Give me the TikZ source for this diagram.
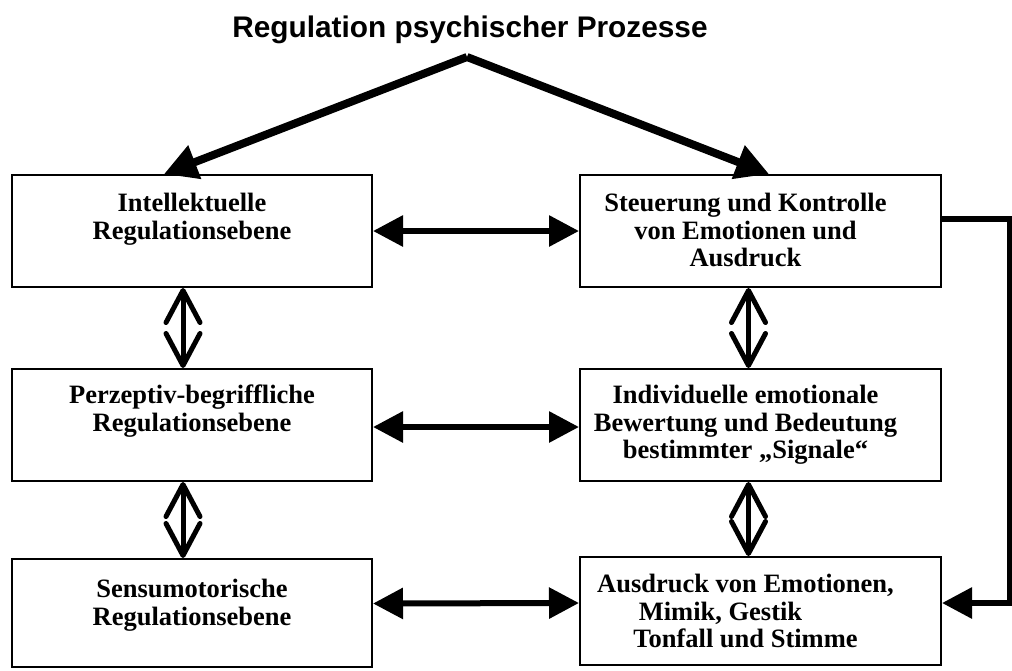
\documentclass[tikz,border=0pt]{standalone}
\usepackage{fontspec}
\setmainfont{Liberation Serif}
\newfontfamily\titlefont{Liberation Sans}
\usetikzlibrary{arrows.meta,calc}

\tikzset{
  box/.style={draw, line width=2pt, rectangle, minimum width=360pt, inner sep=0pt},
  boxtext/.style={anchor=north, align=center, inner sep=0pt,
    font=\fontsize{26.5}{27.5}\selectfont\bfseries},
  toparrow/.style={line width=8pt, -{Triangle[length=33pt,width=34pt]}},
  sidearrow/.style={line width=6pt, {Triangle[length=30pt,width=30pt]}-{Triangle[length=30pt,width=30pt]}},
  levelarrow/.style={line width=5pt,
    {Straight Barb[length=32pt,width=34pt,round]}-{Straight Barb[length=32pt,width=34pt,round]}},
  feedback/.style={line width=6pt, -{Triangle[length=30pt,width=30pt]}}
}

\begin{document}
\begin{tikzpicture}[x=1pt,y=-1pt]
\useasboundingbox (0,0) rectangle (1012,670);

% title
\node[font=\titlefont\fontsize{29.8}{32}\selectfont\bfseries] (title) at (470,30) {Regulation psychischer Prozesse};
\coordinate (apex) at (467,57);

% left column: regulation levels
\node[box, minimum height=112pt] (L1) at (192,231) {};
\node[box, minimum height=112pt] (L2) at (192,425) {};
\node[box, minimum height=108pt] (L3) at (192,613) {};

% right column: emotions
\node[box, minimum width=361pt, minimum height=112pt] (R1) at (760.5,231) {};
\node[box, minimum width=361pt, minimum height=112pt] (R2) at (760.5,425) {};
\node[box, minimum width=361pt, minimum height=108pt] (R3) at (760.5,611) {};

% box texts
\node[boxtext] (tL1) at ([yshift=-19pt]L1.north) {Intellektuelle\\Regulationsebene};
\node[boxtext] (tL2) at ([yshift=-17pt]L2.north) {Perzeptiv-begriffliche\\Regulationsebene};
\node[boxtext] (tL3) at ([yshift=-21pt]L3.north) {Sensumotorische\\Regulationsebene};
\node[boxtext] (tR1) at ([xshift=-15pt,yshift=-19pt]R1.north) {Steuerung und Kontrolle\\von Emotionen und\\Ausdruck};
\node[boxtext] (tR2) at ([xshift=-15pt,yshift=-17pt]R2.north) {Individuelle emotionale\\Bewertung und Bedeutung\\bestimmter „Signale“};
\node[boxtext] (tR3) at ([xshift=-15pt,yshift=-18pt]R3.north) {Ausdruck von Emotionen,\\Mimik, Gestik\rule{50pt}{0pt}\\Tonfall und Stimme};

% split from the title
\draw[toparrow] (apex) -- ($(L1.north west)+(153,0)$);
\draw[toparrow] (apex) -- ($(R1.north west)+(190,0)$);

% horizontal links
\draw[sidearrow] (L1.east) -- (R1.west);
\draw[sidearrow] ([yshift=-2pt]L2.east) -- ([yshift=-2pt]R2.west);
\draw[sidearrow] ([yshift=9.5pt]L3.east) -- ([yshift=8pt]R3.west);

% vertical links
\draw[levelarrow] ([xshift=-9pt]L1.south) -- ([xshift=-9pt]L2.north);
\draw[levelarrow] ([xshift=-9pt]L2.south) -- ([xshift=-9pt]L3.north);
\draw[levelarrow] ([xshift=-12pt]R1.south) -- ([xshift=-12pt]R2.north);
\draw[levelarrow] ([xshift=-12pt]R2.south) -- ([xshift=-12pt]R3.north);

% feedback loop on the right
\coordinate (fb) at (1010,400);
\draw[feedback] ([yshift=12pt]R1.east) -| (fb) |- ([yshift=8pt]R3.east);
\end{tikzpicture}
\end{document}
